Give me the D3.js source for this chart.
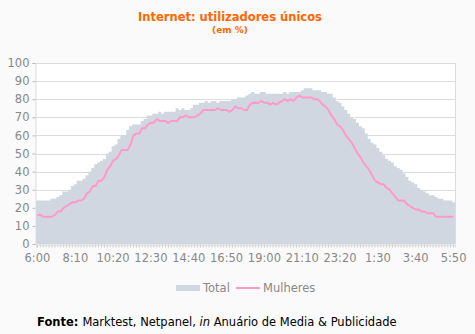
<!DOCTYPE html>
<html>
  <head>
    <meta charset="utf-8">
    <title>Internet: utilizadores únicos</title>
    <script src="https://d3js.org/d3.v7.min.js"></script>
    <style>
      body { margin: 0; background: #fafafa; font-family: "DejaVu Sans", Verdana, sans-serif; }
      svg { display: block; }
    </style>
  </head>
  <body>
    <svg id="chart" width="475" height="334"></svg>
    <script>
      // data: 10-minute slots from 6:00 to 5:50
      var times = [];
      for (var m = 0; m < 144; m++) {
        var t = (360 + m * 10) % 1440;
        times.push(Math.floor(t / 60) + ":" + String(t % 60).padStart(2, "0"));
      }
      var total = [
        24, 24, 24, 24, 24, 25, 25, 26, 27, 29, 29, 30, 32, 33, 35, 35, 36, 38, 40, 42,
        44, 45, 46, 47, 50, 51, 54, 55, 58, 60, 60, 63, 65, 66, 66, 66, 68, 69, 71, 71,
        72, 72, 73, 72, 73, 73, 73, 73, 75, 74, 75, 74, 74, 75, 77, 77, 78, 78, 79, 78,
        79, 79, 78, 79, 79, 79, 79, 80, 80, 81, 81, 81, 82, 83, 84, 83, 83, 84, 84, 83,
        83, 83, 83, 83, 83, 84, 83, 84, 84, 84, 84, 85, 86, 86, 86, 85, 85, 85, 84, 84,
        83, 83, 81, 79, 78, 76, 74, 72, 70, 69, 67, 65, 64, 61, 58, 56, 55, 53, 51, 49,
        47, 46, 45, 43, 42, 41, 39, 37, 35, 34, 33, 31, 30, 29, 28, 27, 27, 26, 25, 25,
        24, 24, 24, 23
      ];
      var mulheres = [
        16, 16, 15, 15, 15, 15, 16, 18, 18, 20, 21, 22, 23, 23, 24, 24, 25, 28, 29, 32,
        32, 35, 35, 37, 41, 43, 46, 47, 49, 52, 52, 52, 55, 60, 61, 61, 64, 64, 66, 67,
        67, 69, 68, 68, 68, 67, 68, 68, 68, 70, 70, 71, 70, 70, 70, 71, 72, 74, 74, 74,
        74, 74, 75, 74, 74, 74, 73, 74, 76, 75, 75, 74, 74, 77, 78, 78, 78, 79, 78, 78,
        77, 78, 77, 78, 79, 80, 79, 80, 79, 81, 82, 81, 81, 81, 81, 80, 80, 79, 77, 76,
        74, 71, 69, 66, 65, 63, 60, 58, 56, 53, 50, 48, 45, 43, 41, 38, 35, 34, 33, 33,
        31, 30, 28, 26, 24, 24, 24, 22, 21, 20, 19, 19, 18, 18, 17, 17, 17, 15, 15, 15,
        15, 15, 15, 15
      ];
      var yTicks = [0, 10, 20, 30, 40, 50, 60, 70, 80, 90, 100];
      var xLabels = ["6:00", "8:10", "10:20", "12:30", "14:40", "16:50", "19:00", "21:10", "23:20", "1:30", "3:40", "5:50"];

      var svg = d3.select("#chart");
      var plotLeft = 36, plotRight = 455, plotTop = 63, plotBottom = 244;

      var x = d3.scaleBand().domain(times).range([plotLeft, plotRight]).padding(0);
      var y = d3.scaleLinear().domain([0, 100]).range([plotBottom, plotTop]);

      // plot background
      svg.append("rect")
        .attr("x", plotLeft).attr("y", plotTop)
        .attr("width", plotRight - plotLeft).attr("height", plotBottom - plotTop)
        .attr("fill", "#ffffff");

      // gridlines
      svg.append("g")
        .selectAll("line")
        .data(yTicks.slice(1))
        .join("line")
          .attr("x1", plotLeft).attr("x2", plotRight)
          .attr("y1", function(d) { return Math.round(y(d)) + 0.5; })
          .attr("y2", function(d) { return Math.round(y(d)) + 0.5; })
          .attr("stroke", "#dcdcdc");

      // total area (stepped)
      var areaPts = times.map(function(t, i) { return [x(t), total[i]]; });
      areaPts.push([plotRight, total[total.length - 1]]);
      var area = d3.area()
        .curve(d3.curveStepAfter)
        .x(function(d) { return d[0]; })
        .y0(y(0))
        .y1(function(d) { return y(d[1]); });
      svg.append("path")
        .datum(areaPts)
        .attr("d", area)
        .attr("fill", "#d0d7e0");

      // right border
      svg.append("line")
        .attr("x1", plotRight + 0.5).attr("x2", plotRight + 0.5)
        .attr("y1", plotTop).attr("y2", plotBottom)
        .attr("stroke", "#dcdcdc");

      // mulheres line
      var line = d3.line()
        .x(function(d, i) { return x(times[i]) + x.bandwidth() / 2; })
        .y(function(d) { return y(d); });
      svg.append("path")
        .datum(mulheres)
        .attr("d", line)
        .attr("fill", "none")
        .attr("stroke", "#ff99cc")
        .attr("stroke-width", 2);

      // y axis
      var yAxis = svg.append("g")
        .attr("transform", "translate(" + (plotLeft - 0.5) + ",0)")
        .call(d3.axisLeft(y).tickValues(yTicks).tickSize(3).tickPadding(3));
      yAxis.select(".domain").attr("stroke", "#dcdcdc");
      yAxis.selectAll(".tick line").attr("stroke", "#bbbbbb");
      yAxis.selectAll("text")
        .attr("fill", "#888888")
        .style("font-size", "11.5px")
        .style("font-family", "DejaVu Sans, sans-serif");

      // x axis
      var xAxis = svg.append("g")
        .attr("transform", "translate(0," + (plotBottom + 0.5) + ")")
        .call(d3.axisBottom(x).tickSize(3).tickPadding(6)
          .tickFormat(function(d) { return xLabels.indexOf(d) >= 0 ? d : ""; }));
      xAxis.select(".domain").attr("stroke", "#dcdcdc");
      xAxis.selectAll(".tick line").attr("stroke", "#cccccc");
      xAxis.selectAll("text")
        .attr("fill", "#888888")
        .style("font-size", "11.5px")
        .style("font-family", "DejaVu Sans, sans-serif");

      // title
      svg.append("text")
        .attr("x", 230).attr("y", 21)
        .attr("text-anchor", "middle")
        .attr("fill", "#ff6600")
        .style("font-size", "11.5px").style("font-weight", "bold")
        .text("Internet: utilizadores únicos");
      svg.append("text")
        .attr("x", 230).attr("y", 33)
        .attr("text-anchor", "middle")
        .attr("fill", "#ff6600")
        .style("font-size", "9px").style("font-weight", "bold")
        .text("(em %)");

      // legend
      var legend = svg.append("g").style("font-size", "11.5px").attr("fill", "#888888");
      legend.append("rect")
        .attr("x", 176).attr("y", 285).attr("width", 24).attr("height", 6)
        .attr("fill", "#d0d7e0");
      legend.append("text").attr("x", 203).attr("y", 292).text("Total");
      legend.append("line")
        .attr("x1", 236).attr("x2", 260).attr("y1", 288).attr("y2", 288)
        .attr("stroke", "#ff99cc").attr("stroke-width", 2);
      legend.append("text").attr("x", 263).attr("y", 292).text("Mulheres");

      // source
      var src = svg.append("text")
        .attr("x", 37).attr("y", 326)
        .attr("fill", "#000000")
        .style("font-size", "11.5px");
      src.append("tspan").style("font-weight", "bold").text("Fonte: ");
      src.append("tspan").text("Marktest, Netpanel, ");
      src.append("tspan").style("font-style", "italic").text("in");
      src.append("tspan").text("  Anuário de Media & Publicidade");
    </script>
  </body>
</html>
